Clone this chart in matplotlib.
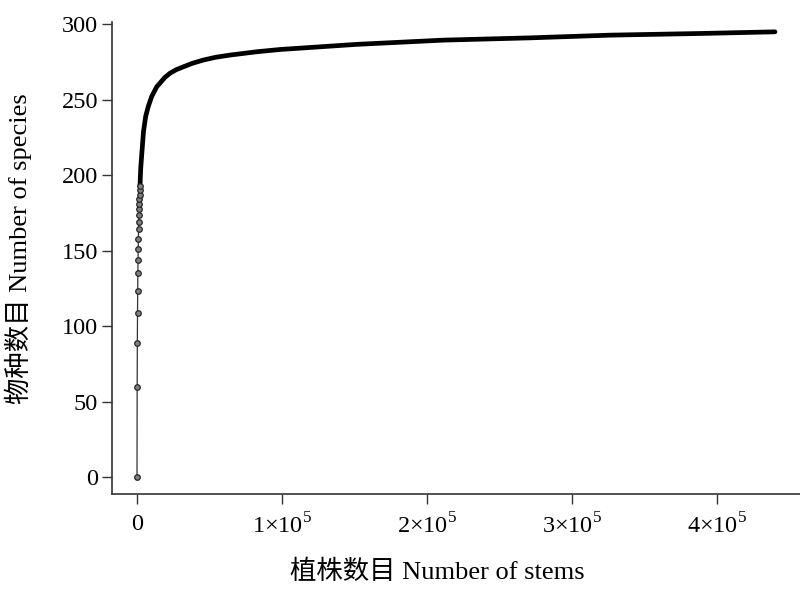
import numpy as np
import matplotlib.pyplot as plt

plt.rcParams['font.family'] = ['Liberation Serif', 'Noto Sans CJK SC']
plt.rcParams['mathtext.fontset'] = 'custom'
plt.rcParams['mathtext.rm'] = 'Liberation Serif'

# first samples, drawn as separate markers
early_stems = [0, 120, 240, 360, 480, 600, 720, 840, 960, 1080, 1200, 1320,
               1440, 1560, 1680, 1800, 1920, 2040]
early_species = [0, 60, 89, 109, 123, 135, 144, 151, 158, 164, 169, 173.5,
                 177.5, 181, 184, 187, 190, 192.5]

# rest of the accumulation curve (markers merge into a thick line)
late_stems = [2040, 2600, 3300, 4500, 6000, 7800, 10100, 13600, 15900, 19000,
              22800, 27000, 31900, 38000, 45700, 54000, 64100, 82600, 98600,
              151500, 211200, 271000, 326200, 388300, 440000]
late_species = [192.5, 205, 214, 229, 239, 245.5, 252, 258.5, 261, 264.5,
                267.5, 269.8, 271.7, 274, 276.2, 278, 279.5, 281.7, 283.2,
                286.6, 289.4, 290.9, 292.7, 293.8, 294.9]

xticks = [0, 1e5, 2e5, 3e5, 4e5]
xticklabels = ['0', '1×10$^{5}$', '2×10$^{5}$', '3×10$^{5}$', '4×10$^{5}$']
yticks = [0, 50, 100, 150, 200, 250, 300]

fig = plt.figure(figsize=(8, 5.99), dpi=100)
ax = fig.add_axes([0.14, 0.175, 0.86, 0.788])

ax.plot(late_stems, late_species, c='k', lw=3.4, solid_capstyle='round',
        solid_joinstyle='round')
ax.plot(early_stems, early_species, c='0.2', lw=0.9, marker='o', ms=4,
        mfc='0.5', mec='0.15', mew=0.9)

ax.set_xlim([-17240, 457260])
ax.set_ylim([-11.3, 301.3])
ax.set_xticks(xticks)
ax.set_xticklabels(xticklabels)
ax.set_yticks(yticks)

for s in ['top', 'right']:
    ax.spines[s].set_visible(False)
for s in ['left', 'bottom']:
    ax.spines[s].set_linewidth(1.2)
    ax.spines[s].set_color('0.2')

ax.tick_params(axis='both', direction='out', length=7, width=1, color='0.2',
               labelsize=17.5)
ax.tick_params(axis='x', pad=7)
ax.tick_params(axis='y', pad=3)

ax.set_xlabel('植株数目 Number of stems', fontsize=19)
ax.set_ylabel('物种数目 Number of species', fontsize=19)
ax.xaxis.set_label_coords(0.473, -0.138)
ax.yaxis.set_label_coords(-0.116, 0.52)

plt.savefig('out.png')
